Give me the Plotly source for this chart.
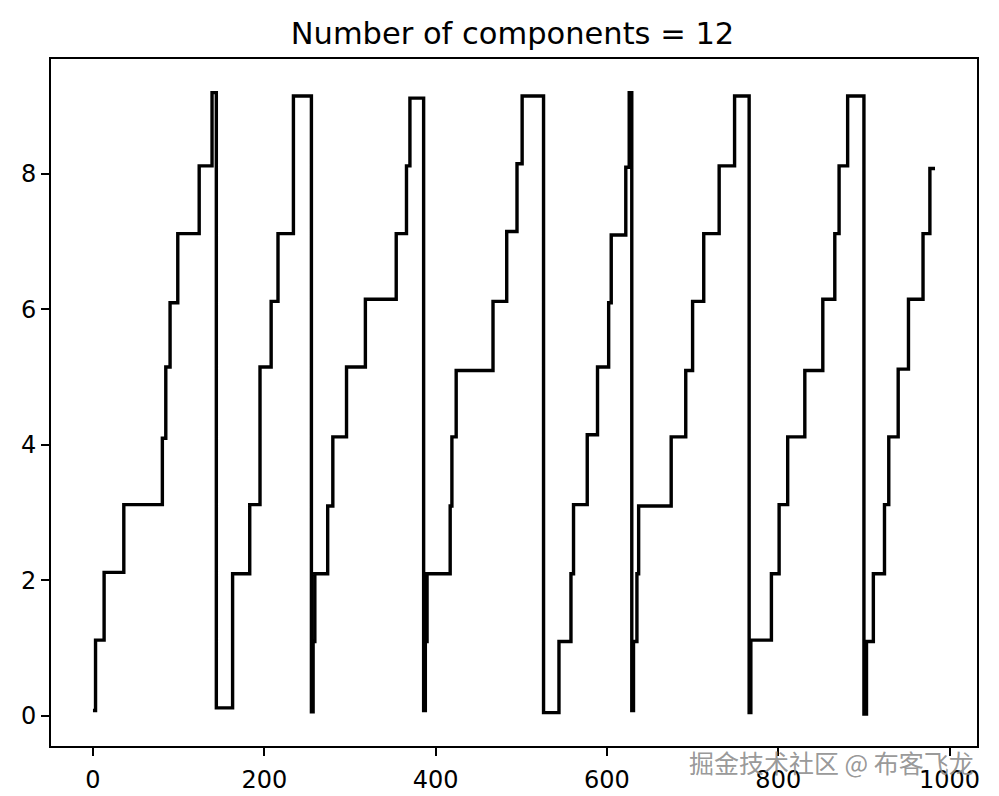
import plotly.graph_objects as go

# Step breakpoints: the series holds each level from its x until the next x
step_x = [0, 3, 13, 36, 81, 85, 90, 99, 124, 139,
          144, 163, 183, 195, 208, 216, 234,
          255, 257, 259, 274, 280, 296, 318, 354, 366, 370,
          386, 388, 390, 417, 419, 424, 467, 483, 495, 501,
          526, 544, 558, 561, 577, 589, 602, 605, 622, 626,
          629, 631, 635, 637, 675, 692, 700, 713, 731, 749,
          766, 768, 792, 801, 811, 831, 852, 866, 871, 881,
          900, 903, 911, 924, 929, 940, 952, 969, 977, 983]
step_y = [0.08, 1.12, 2.12, 3.12, 4.10, 5.15, 6.10, 7.12, 8.12, 9.20,
          0.12, 2.10, 3.12, 5.15, 6.12, 7.12, 9.15,
          0.06, 1.10, 2.10, 3.10, 4.12, 5.15, 6.15, 7.12, 8.12, 9.12,
          0.08, 1.10, 2.10, 3.10, 4.12, 5.10, 6.12, 7.15, 8.15, 9.15,
          0.05, 1.10, 2.10, 3.12, 4.15, 5.15, 6.10, 7.10, 8.10, 9.20,
          0.08, 1.10, 2.10, 3.10, 4.12, 5.10, 6.12, 7.12, 8.12, 9.15,
          0.05, 1.12, 2.10, 3.12, 4.12, 5.10, 6.15, 7.12, 8.12, 9.15,
          0.03, 1.10, 2.10, 3.12, 4.12, 5.12, 6.15, 7.12, 8.08, 8.08]

x_ticks = [0, 200, 400, 600, 800, 1000]
y_ticks = [0, 2, 4, 6, 8]
title_text = "Number of components = 12"
watermark = "掘金技术社区 @ 布客飞龙"

fig = go.Figure()
fig.add_trace(go.Scatter(
    x=step_x, y=step_y, mode="lines", line_shape="hv",
    line=dict(color="black", width=3.4), showlegend=False, hoverinfo="skip"))

axis_common = dict(
    showline=True, mirror=True, linecolor="black", linewidth=1.9,
    showgrid=False, zeroline=False, ticks="outside", ticklen=8,
    tickwidth=1.9, tickcolor="black", automargin=False,
    tickfont=dict(family="DejaVu Sans", size=24, color="black"))

fig.update_xaxes(range=[-49, 1032], tickvals=x_ticks, ticklabelstandoff=3,
                 ticktext=[str(v) for v in x_ticks], **axis_common)
fig.update_yaxes(range=[-0.443, 9.697], tickvals=y_ticks,
                 ticktext=[str(v) for v in y_ticks], **axis_common)

fig.update_layout(
    width=999, height=796, autosize=False,
    margin=dict(l=51, r=22, t=59, b=50),
    plot_bgcolor="white", paper_bgcolor="white",
    title=dict(text=title_text, x=512.5 / 999, xanchor="center",
               y=(796 - 33) / 796, yanchor="middle",
               font=dict(family="DejaVu Sans", size=30.5, color="black")),
    annotations=[dict(text=watermark, xref="paper", yref="paper",
                      x=(976 - 51) / 926, y=(746 - 762) / 687,
                      xanchor="right", yanchor="middle", showarrow=False,
                      font=dict(family="Noto Sans CJK SC", size=25,
                                color="rgba(140,140,140,0.9)"))])

fig.write_html("out.html", config={"displayModeBar": False},
               post_script="document.body.style.margin='0px';"
                           "document.body.style.overflow='hidden';")
